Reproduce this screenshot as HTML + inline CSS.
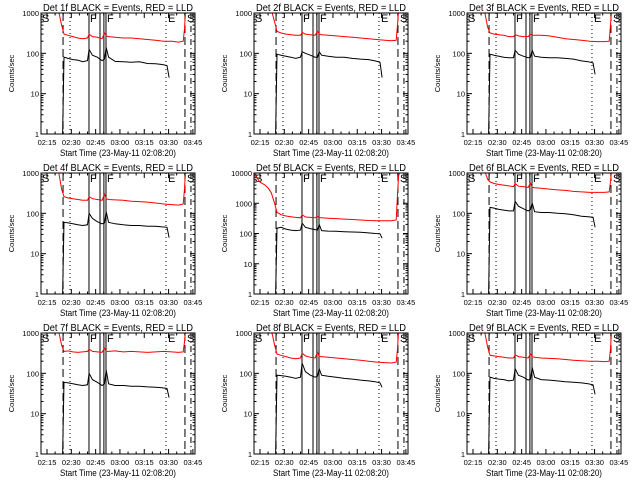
<!DOCTYPE html>
<html><head><meta charset="utf-8">
<style>
html,body{margin:0;padding:0;background:#fff;}
svg{display:block;font-family:"Liberation Sans",sans-serif;}
</style></head>
<body>
<svg id="chart" width="640" height="480" viewBox="0 0 640 480" xmlns="http://www.w3.org/2000/svg">
<rect width="640" height="480" fill="#fff"/>
</svg>
<script>
// time in minutes after 02:00
const xTickLabels = ["02:15","02:30","02:45","03:00","03:15","03:30","03:45"];
const xTickTimes = [15,30,45,60,75,90,105];
const blackTimes = [24.6,25.5,28,31,34,37,40,41,43,46,49,50.5,51.5,53,57,62,67,72,77,82,86,89,90.3];
const redTimes = [22,24,25.5,28,31,34,37,40,41,43,46,49,50.5,51.5,53,57,62,67,72,77,82,87,92,96,99,99.8,100.5];
const red5Times = [11.3,13,15,18,20,22,24,25.5,28,31,34,37,40,41,43,46,49,50.5,51.5,53,57,62,67,72,77,82,87,92,96,99,99.8,100.5,101.5];
const detNames = ["1f","2f","3f","4f","5f","6f","7f","8f","9f"];
const decades = [3,3,3,3,4,3,3,3,3];
const black1 = [1,80,75,70,68,62,66,125,90,80,66,72,140,80,63,62,60,62,56,55,53,50,25];
const black2 = [1,95,90,85,80,75,80,110,100,90,80,80,110,90,85,80,80,75,72,70,65,60,25];
const black3 = [1,95,90,85,80,78,78,120,95,85,78,80,120,85,80,78,78,75,72,65,62,58,30];
const black4 = [1,60,58,55,52,50,52,100,75,62,55,58,110,60,55,52,50,50,48,48,46,45,25];
const black5 = [1,150,160,140,130,125,130,220,160,145,135,130,200,125,120,118,115,112,110,105,100,98,70];
const black6 = [1,140,135,125,120,115,115,200,150,130,115,125,180,110,105,105,100,98,92,85,82,80,45];
const black7 = [1,60,58,55,52,50,52,100,70,60,50,55,120,55,50,50,48,48,46,45,44,42,25];
const black8 = [1,90,88,85,80,75,80,180,110,90,80,85,130,90,85,80,75,72,68,65,62,58,45];
const black9 = [1,80,75,72,70,65,68,130,90,80,68,72,140,80,70,68,65,62,60,58,55,52,30];
const red1 = [1200,500,300,280,260,240,230,240,300,260,250,230,320,270,260,250,240,240,230,220,210,200,200,190,200,400,1200];
const red2 = [1200,600,350,320,300,290,280,280,330,300,290,280,350,300,290,280,270,260,250,240,230,220,210,205,210,500,1200];
const red3 = [1200,450,320,300,290,280,260,260,290,270,260,260,300,280,280,280,270,250,230,220,210,200,195,195,200,500,1200];
const red4 = [1200,400,260,240,230,220,210,210,260,230,220,210,300,230,220,215,210,200,195,190,180,170,165,160,170,400,1200];
const red5 = [10000,7000,5000,4000,3200,2200,1000,500,420,380,360,340,330,420,350,340,330,370,330,330,320,310,300,290,280,270,265,265,265,280,2000,8000,12000];
const red6 = [1200,700,600,550,520,500,480,460,550,470,460,440,560,440,430,420,400,380,370,350,340,330,330,330,340,600,1200];
const red7 = [1200,500,350,360,340,330,340,350,400,350,340,330,420,350,350,360,340,350,340,330,340,350,340,330,340,600,1200];
const red8 = [1200,500,300,280,260,240,230,240,320,270,250,240,330,260,260,250,240,230,220,210,200,190,185,180,190,400,1200];
const red9 = [1200,450,280,270,260,250,240,240,290,260,250,240,300,260,250,240,235,230,220,210,205,200,200,195,200,400,1200];
const blackSeries = [black1,black2,black3,black4,black5,black6,black7,black8,black9];
const redSeries = [red1,red2,red3,red4,red5,red6,red7,red8,red9];
const redTimeSets = [redTimes,redTimes,redTimes,redTimes,red5Times,redTimes,redTimes,redTimes,redTimes];
// marker line times
const dashedStart = 24.9, dottedStart = 29.2, fLines = [40.9,47.7,50.1,51.4], dottedEnd = 88.4, dashedEnd = 100.1, dashDotEnd = 103.8;

const NS = "http://www.w3.org/2000/svg";
const svg = document.getElementById("chart");
const T0 = 11.3, T1 = 106.3, PW = 154, PH = 121;
function mk(tag, attrs, parent){const e=document.createElementNS(NS,tag);for(const k in attrs)e.setAttribute(k,attrs[k]);(parent||svg).appendChild(e);return e;}

for (let p=0;p<9;p++){
  const col=p%3,row=Math.floor(p/3);
  const L=41+213*col, T=13+160*row, R=L+PW, B=T+PH;
  const nd=decades[p];
  const xs=t=>L+(t-T0)/(T1-T0)*PW;
  const ys=v=>B-Math.log10(Math.max(v,0.5))/nd*PH;
  const g=mk("g",{});
  
  
  const clip=mk("clipPath",{id:"c"+p},g);mk("rect",{x:L,y:T,width:PW,height:PH},clip);
  const title=mk("text",{x:(L+R)/2,y:T-2,"text-anchor":"middle","font-size":"10",textLength:"150",lengthAdjust:"spacingAndGlyphs"},g);
  title.textContent="Det "+detNames[p]+" BLACK = Events, RED = LLD";
  
  
  const yl=mk("text",{x:0,y:0,"text-anchor":"middle","font-size":"7.5",transform:`translate(${L-27},${(T+B)/2}) rotate(-90)`},g);
  yl.textContent="Counts/sec";
  
  
  const xl=mk("text",{x:(L+R)/2,y:B+22,"text-anchor":"middle","font-size":"9",textLength:"116",lengthAdjust:"spacingAndGlyphs"},g);
  xl.textContent="Start Time (23-May-11 02:08:20)";
  
  
  // y ticks
  for(let d=0;d<=nd;d++){
    const y=ys(Math.pow(10,d));
    const t=mk("text",{x:L-2,y:y+3,"text-anchor":"end","font-size":"7.5"},g);
    t.textContent=String(Math.pow(10,d));
    
    
    mk("line",{x1:L,x2:L+5,y1:y,y2:y,stroke:"#000"},g);
    mk("line",{x1:R,x2:R-5,y1:y,y2:y,stroke:"#000"},g);
    if(d<nd)for(let m=2;m<10;m++){const yy=ys(m*Math.pow(10,d));
      mk("line",{x1:L,x2:L+2.5,y1:yy,y2:yy,stroke:"#000"},g);mk("line",{x1:R,x2:R-2.5,y1:yy,y2:yy,stroke:"#000"},g);}
  }
  // x ticks
  xTickTimes.forEach((tt,i)=>{const x=xs(tt);
    mk("line",{x1:x,x2:x,y1:B,y2:B-5,stroke:"#000"},g);mk("line",{x1:x,x2:x,y1:T,y2:T+5,stroke:"#000"},g);
    const t=mk("text",{x:x,y:B+11,"text-anchor":"middle","font-size":"7.5"},g);t.textContent=xTickLabels[i];
    
    
  });
  for(let m=20;m<106;m+=5){if(m%15){const x=xs(m);mk("line",{x1:x,x2:x,y1:B,y2:B-2.5,stroke:"#000"},g);mk("line",{x1:x,x2:x,y1:T,y2:T+2.5,stroke:"#000"},g);}}
  // marker lines
  const vl=(t,dash,name)=>{const l=mk("line",{x1:xs(t),x2:xs(t),y1:T,y2:B,stroke:"#000","stroke-dasharray":dash},g);
    };
  vl(dashedStart,"8,4","start-dashed-line");vl(dottedStart,"1,3","start-dotted-line");
  fLines.forEach(t=>vl(t,"none","flare-line"));
  vl(dottedEnd,"1,3","end-dotted-line");vl(dashedEnd,"8,4","end-dashed-line");vl(dashDotEnd,"6,3,1,3","end-dashdot-line");
  const lab=(x,ch)=>{const t=mk("text",{x:x,y:T+9,"font-size":"11"},g);t.textContent=ch;
    };
  lab(L+1,"S");lab(xs(fLines[0])+1,"F");lab(xs(fLines[3])+1,"F");lab(xs(dottedEnd)+2,"E");lab(xs(dashedEnd)+2,"S");
  // series
  const pts=(ts,vs)=>ts.map((t,i)=>xs(t).toFixed(1)+","+ys(vs[i]).toFixed(1)).join(" ");
  const rl=mk("polyline",{points:pts(redTimeSets[p],redSeries[p]),fill:"none",stroke:"#ff0000","stroke-width":"1","clip-path":`url(#c${p})`},g);
  
  
  const bl=mk("polyline",{points:pts(blackTimes,blackSeries[p]),fill:"none",stroke:"#000","stroke-width":"1","clip-path":`url(#c${p})`},g);
  
  
  mk("rect",{x:L,y:T,width:PW,height:PH,fill:"none",stroke:"#000"},g);
}
</script>
</body></html>
